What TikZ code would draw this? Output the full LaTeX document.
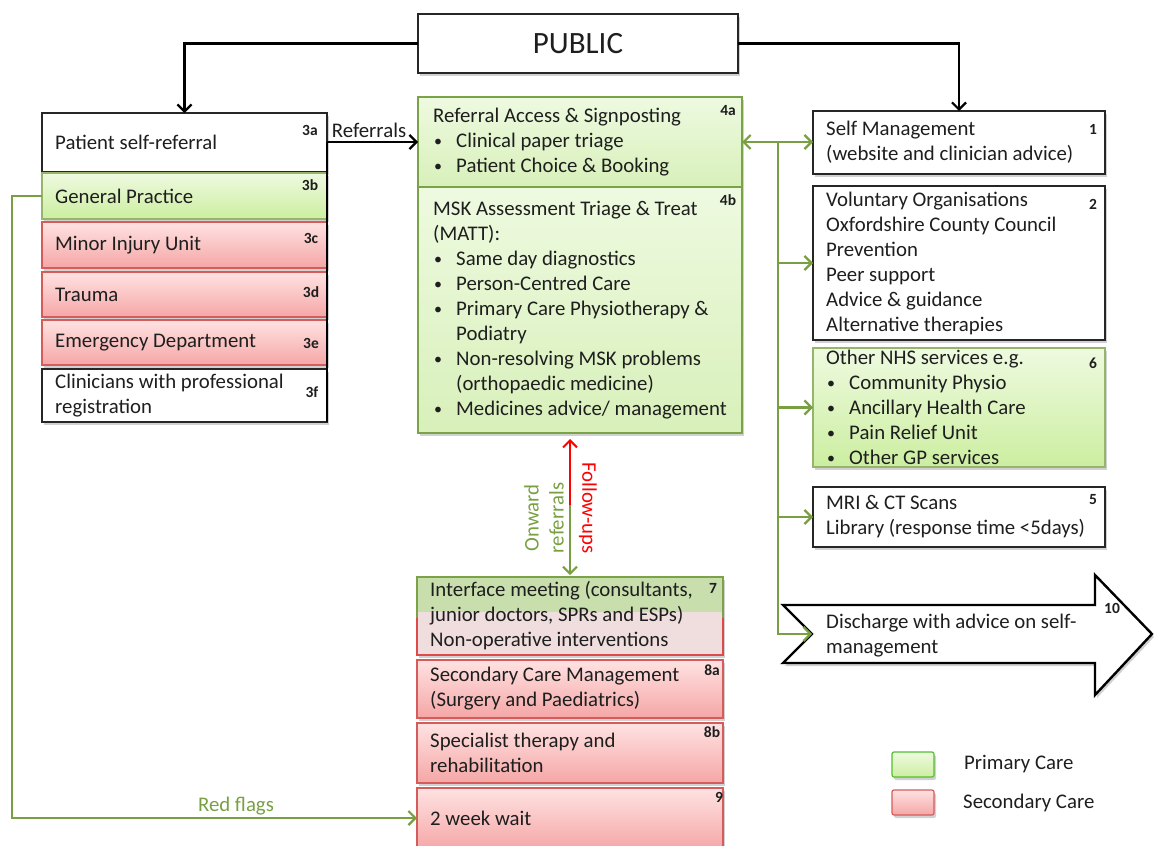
\documentclass[tikz,border=0pt]{standalone}
\usepackage{fontspec}
\setmainfont{Carlito}
\usetikzlibrary{arrows.meta,shadows,calc}
\definecolor{grnB}{RGB}{122,162,70}
\definecolor{grnL}{RGB}{120,160,66}
\definecolor{gTop}{RGB}{238,250,224}
\definecolor{gBot}{RGB}{204,238,160}
\definecolor{gBotL}{RGB}{216,240,186}
\definecolor{redB}{RGB}{214,92,92}
\definecolor{rTop}{RGB}{255,226,226}
\definecolor{rBot}{RGB}{245,166,166}
\definecolor{gSeven}{RGB}{200,222,172}
\definecolor{pSeven}{RGB}{240,222,222}
\definecolor{txtc}{RGB}{30,30,30}
\newcommand\bl{\makebox[23pt][l]{\hspace{1pt}\raisebox{1pt}{\fontsize{16}{16}\selectfont\textbullet}}}
\begin{document}
\begin{tikzpicture}[x=1pt,y=-1pt,
  sh/.style={drop shadow={shadow xshift=2pt,shadow yshift=-3pt,opacity=0.3,fill=black!60}},
  bx/.style={rectangle,inner sep=0pt,outer sep=0pt},
  wbox/.style={bx,draw=black!85,line width=1.5pt,fill=white,sh},
  gbox/.style={bx,draw=grnB,line width=1.8pt,top color=gTop,bottom color=gBotL,sh},
  rbox/.style={bx,draw=redB,line width=1.4pt,top color=rTop,bottom color=rBot,sh},
  txt/.style={anchor=west,align=left,inner sep=0pt,font=\fontsize{20.8}{25}\selectfont,text=txtc},
  num/.style={inner sep=0pt,font=\fontsize{15.5}{15.5}\selectfont\bfseries,text=txtc},
  blk/.style={line width=2.2pt,black},
  grn/.style={line width=2.2pt,grnL},
  barb/.style={-{Straight Barb[length=7pt,width=14pt]}}]
\useasboundingbox (0,0) rectangle (1154,846);

% PUBLIC
\node[wbox,line width=2pt,minimum width=320pt,minimum height=59pt,font=\fontsize{31}{31}\selectfont,text=txtc] (pub) at (578,43.5) {PUBLIC};

% left column
\node[wbox,minimum width=285pt,minimum height=59pt] (a3) at (184.5,142.5) {};
\node[gbox,line width=1.4pt,draw=grnB!80,bottom color=gBot,minimum width=285pt,minimum height=46pt] (b3) at (184.5,196) {};
\node[rbox,minimum width=285pt,minimum height=46pt] (c3) at (184.5,245) {};
\node[rbox,minimum width=285pt,minimum height=45pt] (d3) at (184.5,294.5) {};
\node[rbox,minimum width=285pt,minimum height=45pt] (e3) at (184.5,342.5) {};
\node[wbox,minimum width=285pt,minimum height=53pt] (f3) at (184.5,395.5) {};
\node[txt] (a3t) at ([xshift=13pt]a3.west) {Patient self-referral};
\node[txt] (b3t) at ([xshift=13pt]b3.west) {General Practice};
\node[txt] (c3t) at ([xshift=13pt]c3.west) {Minor Injury Unit};
\node[txt] (d3t) at ([xshift=13pt]d3.west) {Trauma};
\node[txt] (e3t) at ([xshift=13pt]e3.west) {Emergency Department};
\node[txt] (f3t) at ([xshift=13pt]f3.west) {Clinicians with professional\\registration};
\node[num] (a3n) at (310,130) {3a};
\node[num] (b3n) at (310,185) {3b};
\node[num] (c3n) at (311,238) {3c};
\node[num] (d3n) at (311,292) {3d};
\node[num] (e3n) at (311,343) {3e};
\node[num] (f3n) at (312,392) {3f};

% centre column
\node[gbox,minimum width=324pt,minimum height=90pt] (a4) at (580,142) {};
\node[gbox,minimum width=324pt,minimum height=246pt] (b4) at (580,310) {};
\node[txt] (a4t) at ([xshift=15pt]a4.west) {Referral Access \& Signposting\\\bl Clinical paper triage\\\bl Patient Choice \& Booking};
\node[txt] (b4t) at ([xshift=15pt]b4.west) {MSK Assessment Triage \& Treat\\(MATT):\\\bl Same day diagnostics\\\bl Person-Centred Care\\\bl Primary Care Physiotherapy \&\\\hspace*{23pt}Podiatry\\\bl Non-resolving MSK problems\\\hspace*{23pt}(orthopaedic medicine)\\\bl Medicines advice/ management};
\node[num] (a4n) at (728,111) {4a};
\node[num] (b4n) at (728,200) {4b};

% right column
\node[wbox,minimum width=292pt,minimum height=63pt] (s1) at (959,142.5) {};
\node[wbox,minimum width=292pt,minimum height=154pt] (v2) at (959,263) {};
\node[gbox,line width=1.4pt,draw=grnB!80,bottom color=gBot,minimum width=292pt,minimum height=119pt] (o6) at (959,407.5) {};
\node[wbox,minimum width=292pt,minimum height=60pt] (m5) at (959,517) {};
\node[txt] (s1t) at ([xshift=13pt]s1.west) {Self Management\\(website and clinician advice)};
\node[txt] (v2t) at ([xshift=13pt]v2.west) {Voluntary Organisations\\Oxfordshire County Council\\Prevention\\Peer support\\Advice \& guidance\\Alternative therapies};
\node[txt] (o6t) at ([xshift=13pt]o6.west) {Other NHS services e.g.\\\bl Community Physio\\\bl Ancillary Health Care\\\bl Pain Relief Unit\\\bl Other GP services};
\node[txt] (m5t) at ([xshift=13pt]m5.west) {MRI \& CT Scans\\Library (response time <5days)};
\node[num] (s1n) at (1093,129) {1};
\node[num] (v2n) at (1093,204) {2};
\node[num] (o6n) at (1093,363) {6};
\node[num] (m5n) at (1093,500) {5};

% discharge arrow
\draw[line width=2.4pt,fill=white,sh] (783,605) -- (1095,605) -- (1095,575) -- (1152,634) -- (1095,695) -- (1095,663) -- (783,663) -- (812,634) -- cycle;
\coordinate (dnotch) at (812,634);
\node[txt] (d10t) at (826,635.5) {Discharge with advice on self-\\management};
\node[num] (d10n) at (1112,608) {10};

% bottom centre
\node[bx,fill=pSeven,sh,minimum width=306pt,minimum height=78pt] (n7) at (570,616) {};
\fill[gSeven] (n7.north west) rectangle ([yshift=4pt]n7.east);
\draw[grnB,line width=1.6pt] ([yshift=-2pt]n7.west) |- (n7.north) -| ([yshift=-2pt]n7.east);
\draw[redB!80!red,line width=1.6pt] ([yshift=-2pt]n7.west) |- (n7.south) -| ([yshift=-2pt]n7.east);
\node[rbox,minimum width=306pt,minimum height=58pt] (n8a) at (570,689) {};
\node[rbox,minimum width=306pt,minimum height=60pt] (n8b) at (570,753) {};
\node[rbox,minimum width=306pt,minimum height=62pt] (n9) at (570,819) {};
\node[txt] (n7t) at ([xshift=13pt]n7.west) {Interface meeting (consultants,\\junior doctors, SPRs and ESPs)\\Non-operative interventions};
\node[txt] (n8at) at ([xshift=13pt]n8a.west) {Secondary Care Management\\(Surgery and Paediatrics)};
\node[txt] (n8bt) at ([xshift=13pt]n8b.west) {Specialist therapy and\\rehabilitation};
\node[txt] (n9t) at (430,818) {2 week wait};
\node[num] (n7n) at (713,588) {7};
\node[num] (n8an) at (712,670) {8a};
\node[num] (n8bn) at (712,732) {8b};
\node[num] (n9n) at (719,797) {9};

% legend
\node[bx,draw=grnB!70!green,line width=1.2pt,rounded corners=2pt,top color=gTop,bottom color=gBot,sh,minimum width=42pt,minimum height=25pt] (lg) at (913,764.5) {};
\node[bx,draw=redB,line width=1.2pt,rounded corners=2pt,top color=rTop,bottom color=rBot,sh,minimum width=42pt,minimum height=25pt] (lr) at (913,802.5) {};
\node[txt] (lgt) at (964,764.5) {Primary Care};
\node[txt] (lrt) at (963,802.5) {Secondary Care};

% connectors
\draw[blk,barb] (pub.west) -| (a3.north);
\draw[blk,barb] (pub.east) -| (s1.north);
\draw[blk,line width=2.6pt] (f3.south east) -- (f3.south east |- a4.west);
\draw[blk,barb] (f3.south east |- a4.west) -- (a4.west);
\node[txt,anchor=center] (reft) at (369,130) {Referrals};

\draw[grn,barb] (b3.west) -- ++(-30,0) |- (n9.west |- n9t.west);
\node[txt,anchor=center,text=grnL] (rft) at (236,806) {Red flags};

\coordinate (trk) at (778,0);
\draw[grn,{Straight Barb[length=7pt,width=14pt]}-{Straight Barb[length=7pt,width=14pt]}] (a4.east) -- (a4.east -| s1.west);
\draw[grn,barb] (trk |- a4.east) |- (dnotch);
\draw[grn,barb] (trk |- v2.west) -- (v2.west);
\draw[grn,barb] (trk |- o6.west) -- (o6.west);
\draw[grn,barb] (trk |- m5.west) -- (m5.west);

\coordinate (vm) at ($(n7.north)!0.5!(n7.north |- b4.south)$);
\draw[line width=2pt,red,barb,shorten >=6pt] (vm) -- (n7.north |- b4.south);
\draw[line width=2pt,grnL,barb,shorten >=2pt] (vm) -- (n7.north);
\node[txt,anchor=center,align=center,rotate=90,text=grnL] (onw) at (544,518) {Onward\\referrals};
\node[txt,anchor=center,rotate=-90,text=red] (fol) at (588,508) {Follow-ups};
\end{tikzpicture}
\end{document}
